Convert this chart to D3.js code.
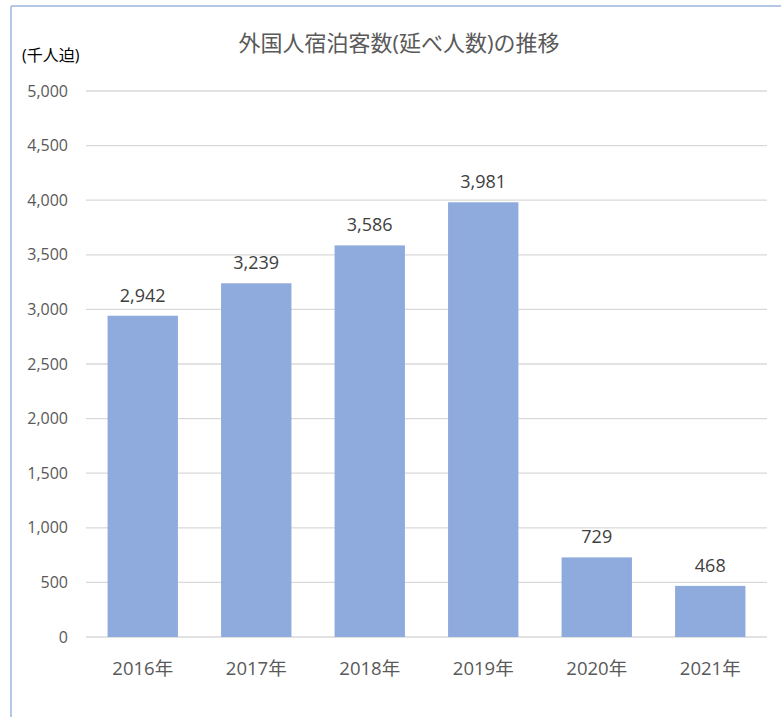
<!DOCTYPE html>
<html lang="ja">
<head>
<meta charset="utf-8">
<script src="https://cdn.jsdelivr.net/npm/d3@7"></script>
<style>
    body { margin: 0; background: #fff; }
    svg { display: block; }
    text { font-family: "Open Sans", "Noto Sans CJK JP", sans-serif; }
    .grid line { stroke: #d9d9d9; stroke-width: 1.3px; }
    .ytick text { fill: #595959; font-size: 16px; }
    .xtick text { fill: #595959; font-size: 18.5px; }
    .value { fill: #404040; font-size: 18px; }
</style>
</head>
<body>
<script>
    const years = ["2016年", "2017年", "2018年", "2019年", "2020年", "2021年"];
    const guests = [2942, 3239, 3586, 3981, 729, 468];
    const yTicks = [0, 500, 1000, 1500, 2000, 2500, 3000, 3500, 4000, 4500, 5000];

    const dim = {width: 781, height: 717, margin: {top: 91, right: 14, bottom: 80, left: 86}};

    const svg = d3.select("body").append("svg")
        .attr("width", dim.width)
        .attr("height", dim.height);

    // frame lines of the chart box
    svg.append("line").attr("x1", 11).attr("x2", 781).attr("y1", 6).attr("y2", 6)
        .attr("stroke", "#b4c7e7").attr("stroke-width", 2);
    svg.append("line").attr("x1", 11).attr("x2", 11).attr("y1", 6).attr("y2", 717)
        .attr("stroke", "#b4c7e7").attr("stroke-width", 2);

    const x = d3.scaleBand()
        .domain(years)
        .range([dim.margin.left, dim.width - dim.margin.right])
        .paddingInner(0.38)
        .paddingOuter(0.19);

    const y = d3.scaleLinear()
        .domain([0, 5000])
        .range([dim.height - dim.margin.bottom, dim.margin.top]);

    // gridlines
    svg.append("g").attr("class", "grid")
        .selectAll("line")
        .data(yTicks)
        .join("line")
        .attr("x1", dim.margin.left)
        .attr("x2", dim.width - dim.margin.right)
        .attr("y1", d => y(d))
        .attr("y2", d => y(d));

    // y labels
    svg.append("g").attr("class", "ytick")
        .selectAll("text")
        .data(yTicks)
        .join("text")
        .attr("x", 68)
        .attr("y", d => y(d))
        .attr("dy", "0.35em")
        .attr("text-anchor", "end")
        .text(d => d3.format(",")(d));

    // bars
    svg.append("g")
        .selectAll("rect")
        .data(guests)
        .join("rect")
        .attr("x", (d, i) => x(years[i]))
        .attr("width", x.bandwidth())
        .attr("y", d => y(d))
        .attr("height", d => y(0) - y(d))
        .attr("fill", "#8faadc");

    // value labels
    svg.append("g")
        .selectAll("text")
        .data(guests)
        .join("text")
        .attr("class", "value")
        .attr("x", (d, i) => x(years[i]) + x.bandwidth() / 2)
        .attr("y", d => y(d) - 14)
        .attr("text-anchor", "middle")
        .text(d => d3.format(",")(d));

    // x labels
    svg.append("g").attr("class", "xtick")
        .selectAll("text")
        .data(years)
        .join("text")
        .attr("x", d => x(d) + x.bandwidth() / 2)
        .attr("y", 675)
        .attr("text-anchor", "middle")
        .text(d => d);

    // title + unit
    svg.append("text")
        .attr("x", 399).attr("y", 51)
        .attr("text-anchor", "middle")
        .attr("fill", "#595959")
        .style("font-size", "22px")
        .text("外国人宿泊客数(延べ人数)の推移");

    svg.append("text")
        .attr("x", 22).attr("y", 61)
        .attr("fill", "#000")
        .style("font-size", "16px")
        .text("(千人迫)");
</script>
</body>
</html>
